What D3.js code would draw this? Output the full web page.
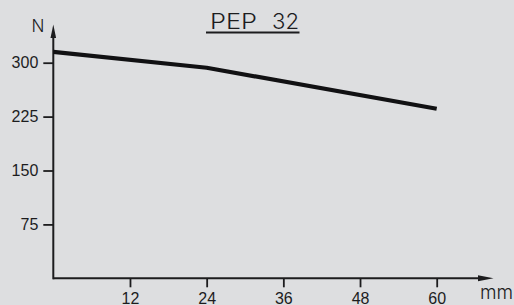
<!DOCTYPE html>
<html>
<head>
<meta charset="utf-8">
<script src="https://cdn.jsdelivr.net/npm/d3@7"></script>
<style>
  html, body { margin: 0; padding: 0; background: #dddee0; }
  svg { display: block; }
</style>
</head>
<body>
<svg id="chart" width="514" height="305"></svg>
<script>
// force (N) against travel (mm)
const strokeMm = [0, 24, 60];
const forceN = [315, 293, 236];
const xTicks = [12, 24, 36, 48, 60];
const yTicks = [75, 150, 225, 300];
const titleParts = ["PEP", "32"];

const svg = d3.select("#chart");
const ink = "#1c1c1e";
const thinFont = "Inter, 'DejaVu Sans', sans-serif";

const x = d3.scaleLinear().domain([0, 60]).range([53.3, 436.7]);
const y = d3.scaleLinear().domain([0, 300]).range([278.3, 62.7]);

// axes with ticks only, domain lines drawn by hand with arrows
const xAxis = svg.append("g")
  .attr("transform", `translate(0,${y(0)})`)
  .call(d3.axisBottom(x).tickValues(xTicks).tickSize(9).tickPadding(5).tickSizeOuter(0));
const yAxis = svg.append("g")
  .attr("transform", `translate(${x(0)},0)`)
  .call(d3.axisLeft(y).tickValues(yTicks).tickSize(10).tickPadding(5).tickSizeOuter(0));

[xAxis, yAxis].forEach(g => {
  g.select(".domain").remove();
  g.selectAll(".tick line").attr("stroke", ink).attr("stroke-width", 1.8);
  g.selectAll(".tick text")
    .attr("fill", ink)
    .style("font-family", "'Liberation Sans', Arial, sans-serif")
    .style("font-size", "16px");
});

svg.append("line")
  .attr("x1", x(0)).attr("y1", y(0))
  .attr("x2", 480).attr("y2", y(0))
  .attr("stroke", ink).attr("stroke-width", 2);
svg.append("line")
  .attr("x1", x(0)).attr("y1", y(0) + 1)
  .attr("x2", x(0)).attr("y2", 37)
  .attr("stroke", ink).attr("stroke-width", 2);

// arrow heads
svg.append("path")
  .attr("d", `M478,${y(0) - 3} L493.5,${y(0)} L478,${y(0) + 3} Z`)
  .attr("fill", ink);
svg.append("path")
  .attr("d", `M${x(0) - 2.8},38 L${x(0)},24.5 L${x(0) + 2.8},38 Z`)
  .attr("fill", ink);

// axis units
svg.append("text")
  .attr("x", 38).attr("y", 32.3)
  .attr("text-anchor", "middle")
  .attr("fill", ink)
  .style("font-family", thinFont)
  .style("font-weight", 300)
  .style("font-size", "17px")
  .text("N");
svg.append("text")
  .attr("x", 480).attr("y", 298.5)
  .attr("fill", ink)
  .attr("textLength", 33)
  .style("font-family", thinFont)
  .style("font-weight", 300)
  .style("font-size", "19px")
  .text("mm");

// title, underlined
const titleText = svg.append("text")
  .attr("y", 29.3)
  .attr("fill", ink)
  .style("font-family", thinFont)
  .style("font-weight", 300)
  .style("font-size", "21px");
titleText.append("tspan")
  .attr("x", 210).attr("textLength", 47).attr("lengthAdjust", "spacingAndGlyphs")
  .text(titleParts[0]);
titleText.append("tspan")
  .attr("x", 272).attr("textLength", 27).attr("lengthAdjust", "spacingAndGlyphs")
  .text(titleParts[1]);
svg.append("line")
  .attr("x1", 206).attr("x2", 299.5)
  .attr("y1", 32.5).attr("y2", 32.5)
  .attr("stroke", ink).attr("stroke-width", 1.8);

// curve
const line = d3.line()
  .x(d => x(d[0]))
  .y(d => y(d[1]));

svg.append("path")
  .datum(d3.zip(strokeMm, forceN))
  .attr("d", line)
  .attr("fill", "none")
  .attr("stroke", "#111113")
  .attr("stroke-width", 4.2)
  .attr("stroke-linejoin", "round");
</script>
</body>
</html>
